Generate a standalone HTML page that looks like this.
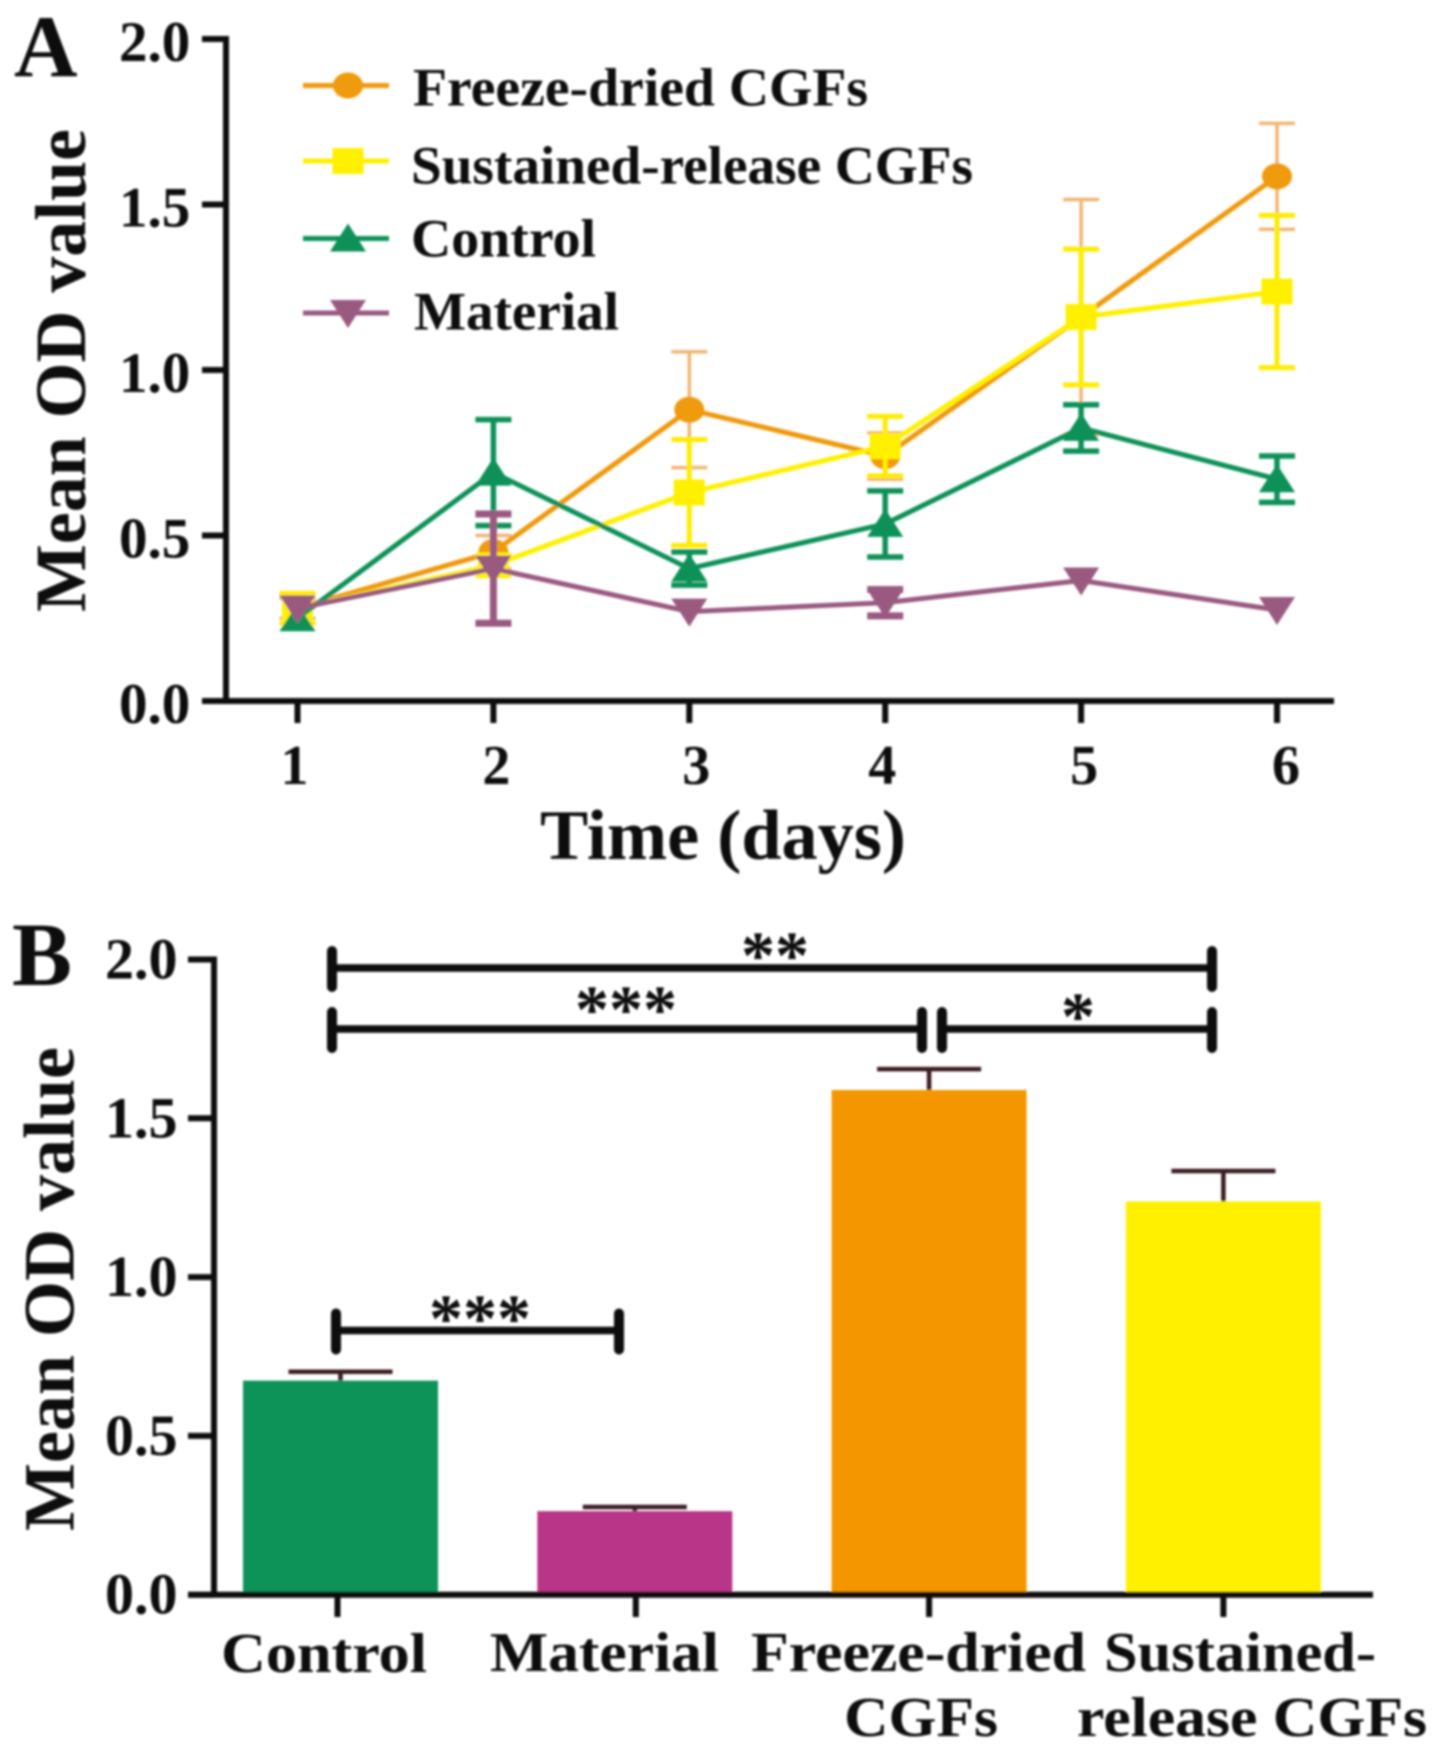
<!DOCTYPE html>
<html lang="en">
<head>
<meta charset="utf-8">
<title>Mean OD value charts</title>
<style>
html,body{margin:0;padding:0;background:#fff;width:1441px;height:1752px;overflow:hidden}
svg{display:block}
text{font-family:"Liberation Serif",serif;font-weight:bold;fill:#0a0a0a}
</style>
</head>
<body>
<svg id="figure" xmlns="http://www.w3.org/2000/svg" width="1441" height="1752" viewBox="0 0 1441 1752">
  <defs><filter id="soft" x="-2%" y="-2%" width="104%" height="104%"><feGaussianBlur stdDeviation="1"/></filter></defs>
  <g id="root" filter="url(#soft)">
    <g id="panelA">
      <text x="14" y="76" font-size="88">A</text>
      <text transform="translate(85,612) rotate(-90)" font-size="72" textLength="483" lengthAdjust="spacingAndGlyphs">Mean OD value</text>
      <text x="540" y="859" font-size="71" textLength="366" lengthAdjust="spacingAndGlyphs">Time (days)</text>
    </g>
    <g id="panelB">
      <text x="12" y="985" font-size="90">B</text>
      <text transform="translate(73.5,1531) rotate(-90)" font-size="72" textLength="484" lengthAdjust="spacingAndGlyphs">Mean OD value</text>
    </g>
  </g>
</svg>
<script>
// ---------- Panel A data ----------
const days = [1, 2, 3, 4, 5, 6];
const valueTicks = [0, 0.5, 1, 1.5, 2];
const valueTickLabels = ["0.0", "0.5", "1.0", "1.5", "2.0"];
const freezeMeans = [0.28, 0.45, 0.88, 0.74, 1.16, 1.585];
const freezeErrors = [0.03, 0.05, 0.175, 0.07, 0.355, 0.16];
const sustainedMeans = [0.28, 0.41, 0.63, 0.77, 1.16, 1.237];
const sustainedErrors = [0.045, 0.03, 0.16, 0.09, 0.205, 0.23];
const controlMeans = [0.25, 0.69, 0.40, 0.535, 0.825, 0.67];
const controlErrors = [0, 0.16, 0.05, 0.10, 0.07, 0.07];
const materialMeans = [0.28, 0.40, 0.27, 0.297, 0.364, 0.275];
const materialErrors = [0, 0.165, 0, 0.04, 0, 0];

// ---------- Panel B data ----------
const groupNames = ["Control", "Material", "Freeze-dried CGFs", "Sustained-release CGFs"];
const groupMeans = [0.674, 0.263, 1.589, 1.238];
const groupErrors = [0.028, 0.013, 0.066, 0.096];

const NS = "http://www.w3.org/2000/svg";
const panelA = document.getElementById("panelA");
const panelB = document.getElementById("panelB");

function make(tag, attrs, parent, content) {
  const el = document.createElementNS(NS, tag);
  for (const k in attrs) el.setAttribute(k, attrs[k]);
  if (content !== undefined) el.textContent = content;
  parent.appendChild(el);
  return el;
}

// axis functions
function xA(day) { return 297.5 + (day - 1) * 195.9; }
function yA(v) { return 701 - v * 331; }
function xB(i) { return 340.5 + i * 294.3; }
function yB(v) { return 1594.7 - v * 317.6; }

// ---------- Panel A axes ----------
let el = make("path", { d: "M202 " + yA(2) + "H226V" + yA(0) + "M202 " + yA(0) + "H1334", fill: "none", stroke: "#0a0a0a", "stroke-width": 6 }, panelA);


valueTicks.forEach(function (v, i) {
  const t = make("line", { x1: 202, x2: 226, y1: yA(v), y2: yA(v), stroke: "#0a0a0a", "stroke-width": 6 }, panelA);
  
  
  const l = make("text", { x: 119, y: yA(v) + 22, "font-size": 57 }, panelA, valueTickLabels[i]);
  
  
});
days.forEach(function (d) {
  const t = make("line", { x1: xA(d), x2: xA(d), y1: yA(0), y2: 723, stroke: "#0a0a0a", "stroke-width": 6 }, panelA);
  
  
  const l = make("text", { x: xA(d) + (d === 6 ? 9 : d === 3 ? 7 : d === 1 ? -3 : d === 4 ? -3 : 3), y: 784, "font-size": 56, "text-anchor": "middle" }, panelA, String(d));
  
  
});

function marker(kind, cx, cy, color, parent) {
  let m;
  if (kind === "circle") {
    m = make("ellipse", { cx: cx, cy: cy, rx: 15, ry: 13, fill: color }, parent);
  } else if (kind === "square") {
    m = make("rect", { x: cx - 15.5, y: cy - 13, width: 31, height: 26, fill: color }, parent);
  } else if (kind === "up") {
    m = make("path", { d: "M" + cx + " " + (cy - 15) + "L" + (cx + 18) + " " + (cy + 13) + "H" + (cx - 18) + "Z", fill: color }, parent);
  } else {
    m = make("path", { d: "M" + cx + " " + (cy + 15) + "L" + (cx + 18) + " " + (cy - 13) + "H" + (cx - 18) + "Z", fill: color }, parent);
  }
  return m;
}

function drawSeries(slug, means, errors, lineColor, errColor, errWidth, kind) {
  const g = make("g", {}, panelA);
  
  
  means.forEach(function (m, i) {
    if (errors[i] <= 0) return;
    const x = xA(days[i]);
    const top = yA(m + errors[i]);
    const low = yA(m - errors[i]);
    const e = make("path", { d: "M" + x + " " + top + "V" + low + "M" + (x - 18) + " " + top + "H" + (x + 18) + "M" + (x - 18) + " " + low + "H" + (x + 18), fill: "none", stroke: errColor, "stroke-width": errWidth }, g);
    
    
  });
  const pts = means.map(function (m, i) { return xA(days[i]) + "," + yA(m); }).join(" ");
  const line = make("polyline", { points: pts, fill: "none", stroke: lineColor, "stroke-width": 5 }, g);
  
  
  means.forEach(function (m, i) {
    const p = marker(kind, xA(days[i]), yA(m), lineColor, g);
    
    
  });
}
drawSeries("freeze-dried-cgfs", freezeMeans, freezeErrors, "#f09a0c", "#f1b672", 3.5, "circle");
drawSeries("sustained-release-cgfs", sustainedMeans, sustainedErrors, "#fff000", "#ffec00", 5, "square");
drawSeries("control", controlMeans, controlErrors, "#0b9159", "#0b9159", 5.5, "up");
drawSeries("material", materialMeans, materialErrors, "#9a5a80", "#9a5a80", 7, "down");

// ---------- Legend ----------
const legendLabels = ["Freeze-dried CGFs", "Sustained-release CGFs", "Control", "Material"];
const legendColors = ["#f09a0c", "#fff000", "#0b9159", "#9a5a80"];
const legendKinds = ["circle", "square", "up", "down"];
const legendRowY = [85.5, 161, 238.5, 313];
const legendBaseY = [105.5, 183.5, 256.5, 329.5];
const legendTextX = [413, 411, 411, 414];
const legendTextW = [455, 562, 185, 205];
legendLabels.forEach(function (name, i) {
  const g = make("g", {}, panelA);
  
  
  const s = make("line", { x1: 303, x2: 389, y1: legendRowY[i], y2: legendRowY[i], stroke: legendColors[i], "stroke-width": 5 }, g);
  
  
  const k = marker(legendKinds[i], 348, legendRowY[i], legendColors[i], g);
  
  
  const t = make("text", { x: legendTextX[i], y: legendBaseY[i], "font-size": 54, textLength: legendTextW[i], lengthAdjust: "spacingAndGlyphs" }, g, name);
  
  
});

// ---------- Panel B bars ----------
const barColors = ["#0a9358", "#b93587", "#f49600", "#fff000"];
const BAR_W = 195;
groupMeans.forEach(function (v, i) {
  const x = xB(i);
  const eTop = yB(v + groupErrors[i]);
  const e = make("path", { d: "M" + x + " " + yB(v) + "V" + eTop + "M" + (x - 52) + " " + eTop + "H" + (x + 52), fill: "none", stroke: "#3a1c22", "stroke-width": 4.5 }, panelB);
  
  
  const b = make("rect", { x: x - BAR_W / 2, y: yB(v), width: BAR_W, height: yB(0) - yB(v), fill: barColors[i] }, panelB);
  
  
});

// ---------- Panel B axes ----------
el = make("path", { d: "M188 " + yB(2) + "H214V" + yB(0) + "M188 " + yB(0) + "H1373", fill: "none", stroke: "#0a0a0a", "stroke-width": 6 }, panelB);


valueTicks.forEach(function (v, i) {
  const t = make("line", { x1: 188, x2: 214, y1: yB(v), y2: yB(v), stroke: "#0a0a0a", "stroke-width": 6 }, panelB);
  
  
  const l = make("text", { x: 105, y: yB(v) + 19, "font-size": 58 }, panelB, valueTickLabels[i]);
  
  
});
groupNames.forEach(function (n, i) {
  const tx = xB(i) + (i === 0 ? -3 : i === 1 ? 1 : 0);
  const t = make("line", { x1: tx, x2: tx, y1: yB(0), y2: 1617, stroke: "#0a0a0a", "stroke-width": 6 }, panelB);
  
  
});

// ---------- Panel B category labels ----------
const catLines = ["Control", "Material", "Freeze-dried", "CGFs", "Sustained-", "release CGFs"];
const catX = [221, 490, 751, 844, 1104, 1077];
const catY = [1672, 1671, 1671, 1736, 1671, 1736];
const catW = [206, 229, 335, 154, 272, 350];
catLines.forEach(function (s, i) {
  const t = make("text", { x: catX[i], y: catY[i], "font-size": 56, textLength: catW[i], lengthAdjust: "spacingAndGlyphs" }, panelB, s);
  
  
});

// ---------- Significance brackets ----------
const bracketX1 = [332, 332, 942, 336];
const bracketX2 = [1212, 922, 1212, 619];
const bracketY = [968, 1029, 1029, 1330.5];
const bracketStars = ["**", "***", "*", "***"];
const starX = [775, 626, 1078, 480];
const starY = [978, 1032, 1039, 1341];
bracketX1.forEach(function (x1, i) {
  const g = make("g", {}, panelB);
  
  
  const x2 = bracketX2[i], y = bracketY[i];
  const h = make("line", { x1: x1, x2: x2, y1: y, y2: y, stroke: "#0a0a0a", "stroke-width": 7.5 }, g);
  
  
  const caps = make("path", { d: "M" + x1 + " " + (y - 17) + "V" + (y + 19) + "M" + x2 + " " + (y - 17) + "V" + (y + 19), fill: "none", stroke: "#0a0a0a", "stroke-width": 10, "stroke-linecap": "round" }, g);
  
  
  const st = make("text", { x: starX[i], y: starY[i], "font-size": 68, "text-anchor": "middle" }, g, bracketStars[i]);
  
  
});
</script>
</body>
</html>
